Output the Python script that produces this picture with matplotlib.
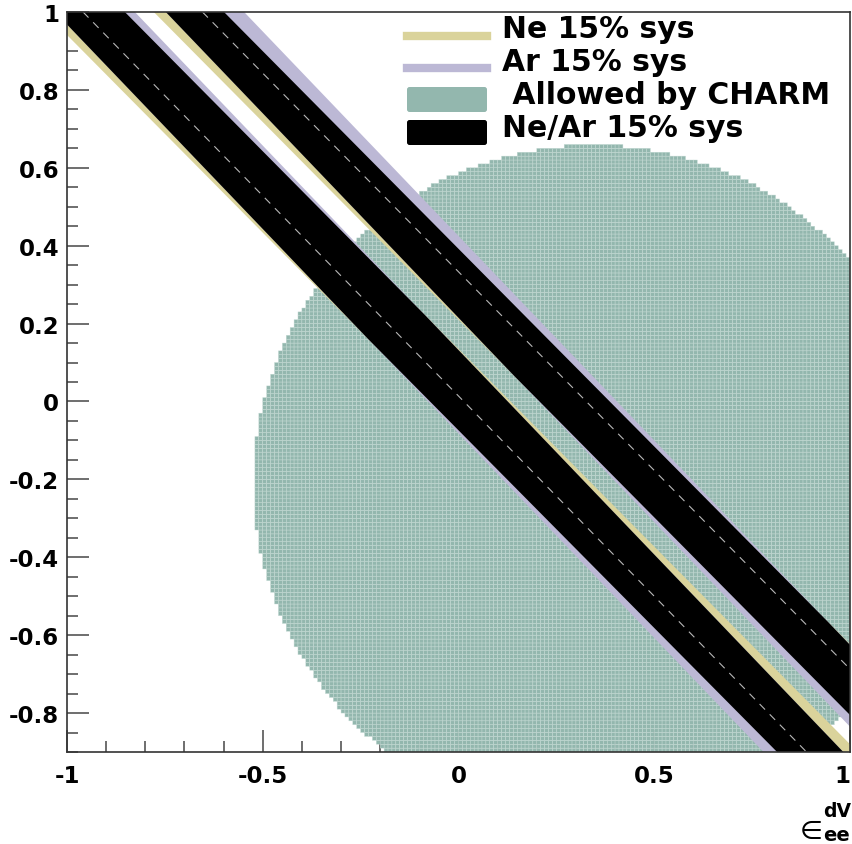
import numpy as np
import matplotlib
matplotlib.use('Agg')
import matplotlib.pyplot as plt
from matplotlib.colors import ListedColormap
from matplotlib.lines import Line2D
from matplotlib.patches import FancyBboxPatch
from matplotlib.ticker import MultipleLocator

plt.rcParams['font.family'] = ['DejaVu Sans']
plt.rcParams['axes.unicode_minus'] = False

W, H = 853, 845

# 15% systematic bands: y = c + slope * x, two solutions per target
ne_slope = -1.015
ar_slope = -1.05
ne_bands = [(-0.074, 0.135), (0.210, 0.392)]
ar_bands = [(-0.082, 0.132), (0.215, 0.425)]

# CHARM allowed region, filled on a 0.01 grid
charm_center = (0.345, -0.21)
charm_radius = 0.868
bin_width = 0.01

# dashed best-fit lines inside the combined bands
fit_x = [[-0.959, 0.889], [-0.654, 1.0]]
fit_y = [[1.0, -0.9], [1.0, -0.687]]

xticks = [-1, -0.5, 0, 0.5, 1]
yticks = [-0.8, -0.6, -0.4, -0.2, 0, 0.2, 0.4, 0.6, 0.8, 1]

labels = ['Ne 15% sys', 'Ar 15% sys', ' Allowed by CHARM', 'Ne/Ar 15% sys']

ne_color = '#dad39b'
ar_color = '#bcb8d5'
charm_color = '#93b7ae'
charm_edge = '#c8ddd7'


def px(x, y):
    return x / W, 1 - y / H


fig = plt.figure(figsize=(W / 100, H / 100), dpi=100)
ax = fig.add_axes([67 / W, 1 - 753 / H, (850 - 67) / W, (753 - 13) / H])

# CHARM region as a binned map
xe = np.arange(-1.0, 1.2 + 1e-9, bin_width)
ye = np.arange(-1.0, 1.0 + 1e-9, bin_width)
xc = (xe[:-1] + xe[1:]) / 2
yc = (ye[:-1] + ye[1:]) / 2
X, Y = np.meshgrid(xc, yc)
inside = (X - charm_center[0]) ** 2 + (Y - charm_center[1]) ** 2 <= charm_radius ** 2
Z = np.ma.masked_where(~inside, np.ones_like(X))
ax.pcolor(xe, ye, Z, cmap=ListedColormap([charm_color]),
          edgecolors=charm_edge, linewidth=0.3, zorder=3)

# single-target bands, then the combined (overlap) band in black
xs = np.linspace(-1.2, 1.2, 600)
for lo, hi in ne_bands:
    ax.fill_between(xs, lo + ne_slope * xs, hi + ne_slope * xs,
                    color=ne_color, lw=0, zorder=4)
for lo, hi in ar_bands:
    ax.fill_between(xs, lo + ar_slope * xs, hi + ar_slope * xs,
                    color=ar_color, lw=0, zorder=4)
for (nlo, nhi), (alo, ahi) in zip(ne_bands, ar_bands):
    lower = np.maximum(nlo + ne_slope * xs, alo + ar_slope * xs)
    upper = np.minimum(nhi + ne_slope * xs, ahi + ar_slope * xs)
    ax.fill_between(xs, lower, upper, color='black', lw=0, zorder=5)

for fx_, fy_ in zip(fit_x, fit_y):
    ax.plot(fx_, fy_, color='#b8b8b8', lw=0.8, dashes=(7, 6), zorder=6)

ax.set_xlim(-1, 1)
ax.set_ylim(-0.9, 1)
ax.set_xticks(xticks)
ax.set_xticklabels([f'{v:g}' for v in xticks])
ax.set_yticks(yticks)
ax.set_yticklabels([f'{v:g}' for v in yticks])
ax.xaxis.set_minor_locator(MultipleLocator(0.1))
ax.yaxis.set_minor_locator(MultipleLocator(0.05))
ax.tick_params(which='both', direction='in', top=False, right=False,
               color='#555555', width=1.2)
ax.tick_params(which='major', length=16, labelsize=16.5)
ax.tick_params(which='minor', length=8)
ax.tick_params(axis='y', pad=5.5)
ax.tick_params(axis='x', pad=9)
# ticks sit underneath the filled regions
ax.xaxis.set_zorder(1)
ax.yaxis.set_zorder(1)
for lab in ax.get_xticklabels() + ax.get_yticklabels():
    lab.set_fontweight('bold')
# keep the last x label inside the canvas
ax.get_xticklabels()[-1].set_horizontalalignment('right')
for sp in ax.spines.values():
    sp.set_linewidth(1.2)
    sp.set_color('#333333')
    sp.set_zorder(7)

# legend
fig.add_artist(Line2D([407 / W, 487 / W], [px(0, 37)[1]] * 2,
                      color=ne_color, lw=6, transform=fig.transFigure))
fig.add_artist(Line2D([407 / W, 487 / W], [px(0, 69)[1]] * 2,
                      color=ar_color, lw=6, transform=fig.transFigure))
for top, col in [(88, charm_color), (121, 'black')]:
    x0, y0 = px(407, top + 25)
    fig.add_artist(FancyBboxPatch((x0, y0), 80 / W, 25 / H,
                                  boxstyle='round,pad=0,rounding_size=0.003',
                                  facecolor=col, edgecolor='none',
                                  transform=fig.transFigure))
for base, text in zip([38, 71, 104, 137], labels):
    fig.text(*px(502, base), text, fontsize=21.5, fontweight='bold',
             va='baseline', ha='left')

# axis title
fig.text(*px(800, 839), '\u2208', fontsize=19, va='baseline', ha='left')
fig.text(*px(823, 817), 'dV', fontsize=13.5, fontweight='bold', va='baseline', ha='left')
fig.text(*px(823, 841), 'ee', fontsize=14, fontweight='bold', va='baseline', ha='left')

fig.savefig('out.png', dpi=100)
